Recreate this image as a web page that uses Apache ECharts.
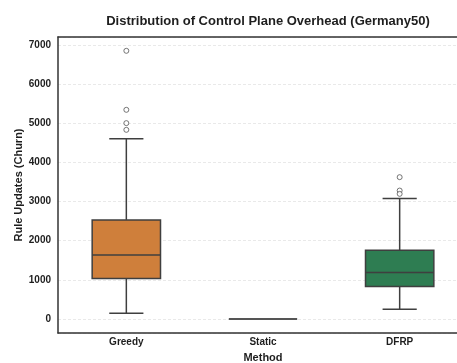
<!DOCTYPE html>
<html>
<head>
<meta charset="utf-8">
<script src="https://cdn.jsdelivr.net/npm/echarts@6/dist/echarts.min.js"></script>
<style>html,body{margin:0;padding:0;background:#fff;}#c{width:457px;height:363px;}</style>
</head>
<body>
<div id="c"></div>
<script>
const categories = ['Greedy', 'Static', 'DFRP'];
const whiskerLow = [145, 0, 248];
const q1 = [1030, 0, 825];
const medians = [1635, 0, 1183];
const q3 = [2529, 0, 1755];
const whiskerHigh = [4599, 0, 3074];
const outliersGreedy = [6847, 5340, 5000, 4829];
const outliersStatic = [];
const outliersDFRP = [3620, 3278, 3194];
const boxColors = ['#cf7f3b', '#8c8c8c', '#2e7d52'];

const boxData = categories.map((c, i) => [i, whiskerLow[i], q1[i], medians[i], q3[i], whiskerHigh[i]]);
const outlierData = [];
[outliersGreedy, outliersStatic, outliersDFRP].forEach((arr, i) => arr.forEach(v => outlierData.push([i, v])));

const font = 'Liberation Sans, Arial, sans-serif';
const edge = '#3f3f3f';
const frame = {show: true, onZero: false, lineStyle: {color: '#333', width: 1.5}};
const chart = echarts.init(document.getElementById('c'), null, {renderer: 'canvas'});
chart.setOption({
  animation: false,
  backgroundColor: '#fff',
  title: {
    text: 'Distribution of Control Plane Overhead (Germany50)',
    left: 263, top: 10, textAlign: 'center',
    textStyle: {fontFamily: font, fontSize: 13, fontWeight: 'bold', color: '#1e1e1e'}
  },
  grid: {left: 58, right: -11, top: 37, bottom: 30, outerBoundsMode: 'none', containLabel: false, show: false},
  xAxis: [{
    type: 'category', data: categories, boundaryGap: true, z: 3,
    name: 'Method', nameLocation: 'middle', nameGap: 19, nameMoveOverlap: false,
    nameTextStyle: {fontFamily: font, fontSize: 11, fontWeight: 'bold', color: '#1e1e1e'},
    axisLine: frame, axisTick: {show: false},
    axisLabel: {fontFamily: font, fontSize: 10, fontWeight: 'bold', color: '#1e1e1e', margin: 4}
  }, {
    type: 'category', data: categories, position: 'top', z: 3,
    axisLine: frame, axisTick: {show: false}, axisLabel: {show: false}, splitLine: {show: false}
  }],
  yAxis: {
    type: 'value', min: -360, max: 7200, splitNumber: 8, z: 1,
    name: 'Rule Updates (Churn)', nameLocation: 'middle', nameGap: 34, nameMoveOverlap: false,
    nameTextStyle: {fontFamily: font, fontSize: 11, fontWeight: 'bold', color: '#1e1e1e'},
    axisLine: frame, axisTick: {show: false},
    axisLabel: {fontFamily: font, fontSize: 10, fontWeight: 'bold', color: '#1e1e1e', margin: 7, showMinLabel: false, showMaxLabel: false,
      formatter: v => String(v)},
    splitLine: {show: true, lineStyle: {color: '#e3e3e3', width: 0.8, type: [3, 2]}}
  },
  series: [
    {
      type: 'custom',
      data: boxData,
      encode: {x: 0, y: [1, 2, 3, 4, 5]},
      renderItem: function (params, api) {
        const i = api.value(0);
        const pLo = api.coord([i, api.value(1)]);
        const pQ1 = api.coord([i, api.value(2)]);
        const pMed = api.coord([i, api.value(3)]);
        const pQ3 = api.coord([i, api.value(4)]);
        const pHi = api.coord([i, api.value(5)]);
        const w = api.size([1, 0])[0] * 0.5;
        const cx = pLo[0];
        const ls = {stroke: edge, lineWidth: 1.5};
        if (api.value(5) === api.value(1)) {
          return {type: 'line', shape: {x1: cx - w / 2, y1: pMed[1], x2: cx + w / 2, y2: pMed[1]}, style: {stroke: '#555', lineWidth: 2}};
        }
        return {
          type: 'group',
          children: [
            {type: 'line', shape: {x1: cx, y1: pLo[1], x2: cx, y2: pQ1[1]}, style: ls},
            {type: 'line', shape: {x1: cx, y1: pQ3[1], x2: cx, y2: pHi[1]}, style: ls},
            {type: 'line', shape: {x1: cx - w / 4, y1: pLo[1], x2: cx + w / 4, y2: pLo[1]}, style: ls},
            {type: 'line', shape: {x1: cx - w / 4, y1: pHi[1], x2: cx + w / 4, y2: pHi[1]}, style: ls},
            {type: 'rect', shape: {x: cx - w / 2, y: pQ3[1], width: w, height: pQ1[1] - pQ3[1]}, style: {fill: boxColors[i], stroke: edge, lineWidth: 1.5}},
            {type: 'line', shape: {x1: cx - w / 2, y1: pMed[1], x2: cx + w / 2, y2: pMed[1]}, style: ls}
          ]
        };
      },
      z: 3
    },
    {
      type: 'scatter',
      data: outlierData,
      symbol: 'circle',
      symbolSize: 5,
      itemStyle: {color: '#fff', borderColor: '#555', borderWidth: 1},
      z: 4
    }
  ]
});
</script>
</body>
</html>
